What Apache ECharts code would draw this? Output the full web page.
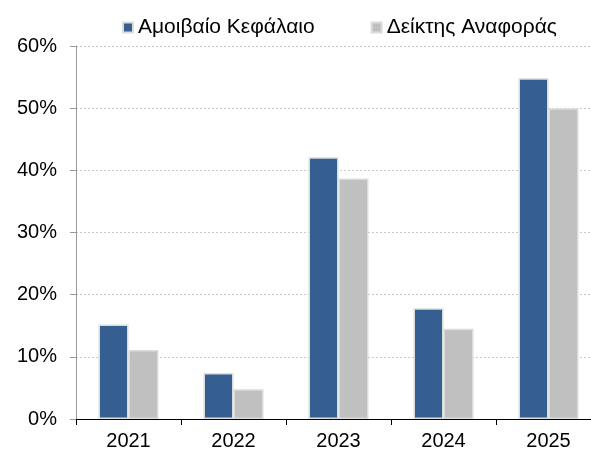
<!DOCTYPE html>
<html><head><meta charset="utf-8">
<script src="https://cdn.jsdelivr.net/npm/echarts@6/dist/echarts.min.js"></script>
<style>html,body{margin:0;padding:0;background:#fff}#c{width:591px;height:452px}</style>
</head><body><div id="c"></div>
<script>
const categories = ['2021','2022','2023','2024','2025'];
const fundValues = [15.2, 7.4, 42.1, 17.8, 54.8];
const benchValues = [11.1, 4.8, 38.7, 14.5, 50.0];
const seriesNames = ['Αμοιβαίο Κεφάλαιο', 'Δείκτης Αναφοράς'];
const font = 'Liberation Sans, Arial, sans-serif';
const chart = echarts.init(document.getElementById('c'));
chart.setOption({
  animation: false,
  textStyle: {fontFamily: font},
  legend: {
    top: 12, left: 117, itemGap: 56, itemWidth: 10, itemHeight: 10, icon: 'rect',
    textStyle: {fontSize: 21, color: '#000', fontFamily: font},
    data: seriesNames
  },
  grid: {left: 76, top: 46, width: 525, height: 373, containLabel: false, outerBoundsMode: 'none'},
  xAxis: {
    type: 'category', data: categories,
    axisLine: {lineStyle: {color: '#000', width: 1}},
    axisTick: {show: true, length: 6, lineStyle: {color: '#000'}},
    axisLabel: {fontSize: 20, color: '#000', margin: 12, fontFamily: font}
  },
  yAxis: {
    type: 'value', min: 0, max: 60, interval: 10,
    axisLine: {show: true, lineStyle: {color: '#999'}},
    axisTick: {show: true, length: 6, lineStyle: {color: '#999'}},
    axisLabel: {fontSize: 20, color: '#000', formatter: '{value}%', margin: 19, fontFamily: font},
    splitLine: {lineStyle: {color: '#c8c8c8', type: [2, 2]}}
  },
  series: [
    {name: seriesNames[0], type: 'bar', data: fundValues, barWidth: 30, barGap: '0%',
     itemStyle: {color: '#365F91', borderColor: '#dcdcdc', borderWidth: 1.5}},
    {name: seriesNames[1], type: 'bar', data: benchValues, barWidth: 30,
     itemStyle: {color: '#C0C0C0', borderColor: '#dcdcdc', borderWidth: 1.5}}
  ]
});
</script></body></html>
